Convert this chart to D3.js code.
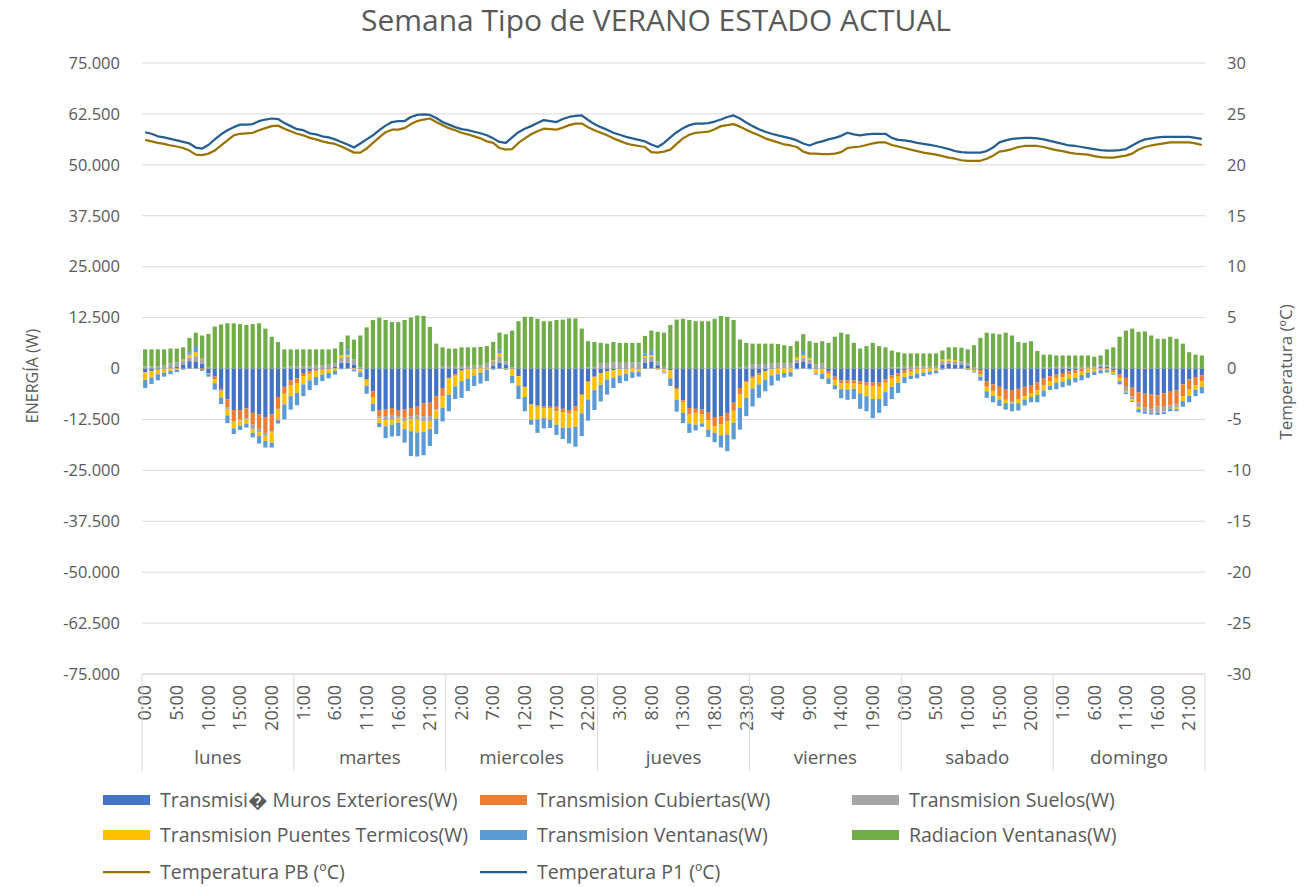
<!DOCTYPE html>
<html>
<head>
<meta charset="utf-8">
<script src="https://cdn.jsdelivr.net/npm/d3@7"></script>
<style>
  body { margin: 0; background: #ffffff; }
  svg text { font-family: "Open Sans", Roboto, "DejaVu Sans", sans-serif; fill: #595959; }
</style>
</head>
<body>
<svg id="chart" width="1310" height="887"></svg>
<script>
// ---- categories -------------------------------------------------------
const days = ["lunes", "martes", "miercoles", "jueves", "viernes", "sabado", "domingo"];
const hours = ["0:00","1:00","2:00","3:00","4:00","5:00","6:00","7:00","8:00","9:00","10:00","11:00",
               "12:00","13:00","14:00","15:00","16:00","17:00","18:00","19:00","20:00","21:00","22:00","23:00"];

// ---- energy series (W), one value per hour, lunes 0:00 .. domingo 23:00 ----
const murosExteriores = [
  -900,-600,-300,-100,300,400,1000,1800,1600,1100,-1100,-2000,-5000,-7600,-10200,-10200,-9800,-10900,-11300,-11900,-11300,-7000,-4500,-2900,
  -2400,-1100,-700,-300,-200,-100,400,1400,1400,1000,-200,-2600,-5600,-10200,-10100,-9700,-10200,-10100,-9700,-9400,-8600,-8400,-6800,-4800,
  -2300,-1400,-400,-200,-100,0,200,600,1400,1000,-100,-1900,-4500,-8800,-9100,-9300,-9400,-9400,-9900,-10200,-9300,-6300,-3100,-2000,
  -1100,-700,-400,-200,-200,0,-200,1400,1600,800,-200,-400,-4800,-7800,-9700,-9900,-10100,-10700,-11900,-11700,-10900,-8400,-4800,-3100,
  -2000,-1200,-700,-200,0,0,0,1400,1600,1200,-200,-100,-700,-2000,-2900,-2900,-2900,-3100,-3400,-3400,-3500,-2700,-1700,-1200,
  -400,-200,0,0,0,0,1000,1200,1000,1000,600,-300,-400,-3100,-3900,-4500,-5200,-5300,-5000,-4500,-4200,-3400,-2500,-1900,
  -1500,-1100,-700,-400,0,0,200,500,400,-400,-1500,-2300,-4700,-5800,-6200,-6400,-6600,-6100,-5700,-5300,-3900,-2700,-2100,-1700
];
const cubiertas = [
  -100,-100,0,0,0,0,0,0,0,-400,-200,-600,-300,-2000,-2700,-2300,-2400,-2900,-3500,-3900,-4100,-2900,-1700,-1300,
  -1200,-800,-600,-400,-200,-200,0,0,0,0,0,-200,-1400,-1600,-1600,-1900,-1500,-2000,-2000,-2100,-3100,-3300,-3300,-2000,
  -200,-400,-200,0,0,0,0,0,0,0,0,0,0,-100,-300,-400,-300,-1100,-800,-900,-1100,-200,-300,-200,
  0,0,0,0,-100,0,0,0,0,0,0,0,-400,-500,-1600,-1000,-1200,-2000,-2300,-2000,-2000,-2000,-1600,-300,
  -400,-500,0,0,0,0,0,0,0,0,0,0,-600,-800,-700,-800,-800,-800,-800,-1000,-1000,-800,-800,-800,
  -700,-600,-300,-100,0,0,0,0,0,0,0,0,-1000,-1400,-1600,-2300,-2500,-2700,-2500,-2300,-2000,-2000,-1700,-1200,
  -800,-1000,-800,-800,-800,0,0,0,0,-500,-800,-2000,-2200,-2600,-3400,-3500,-2700,-3300,-3400,-3500,-2900,-2500,-2000,-1400
];
const suelos = [
  500,500,500,700,900,1100,1000,800,1400,1200,200,0,-200,-300,-200,-300,-300,-1200,-800,-800,-300,-200,200,500,
  600,600,600,700,800,900,900,1200,1500,1200,300,0,0,-400,-1000,-1000,-600,-800,-800,-1100,-1200,-1200,-200,600,
  400,400,600,600,700,800,1000,1200,1600,800,300,0,0,0,0,0,0,0,0,0,0,0,300,400,
  1300,1200,1500,1600,1600,1500,1500,1200,1300,1000,400,0,0,0,0,0,0,0,0,0,0,0,200,600,
  1100,1100,1100,1200,1300,1300,1300,800,1100,1000,1000,1200,0,0,0,0,0,0,0,0,0,0,200,300,
  400,400,500,500,600,600,800,700,800,800,700,200,0,0,0,0,0,-400,0,0,0,0,200,200,
  400,400,400,400,400,400,400,500,400,400,0,-1200,-700,-1200,-1000,-1000,-1500,-1100,-800,-800,0,0,0,0
];
const puentesTermicos = [
  -1800,-1500,-1100,-900,-600,-300,200,800,1000,100,-100,-1000,-1600,-1600,-1600,-1200,-1100,-800,-1000,-1200,-2500,-2600,-2600,-2600,
  -2400,-2000,-1600,-1400,-1100,-800,-600,600,500,-300,-700,-1400,-1600,-1200,-1500,-1200,-1000,-2000,-2900,-3100,-2700,-2000,-2000,-2900,
  -3900,-2600,-2500,-2300,-1600,-1000,-300,200,800,-100,-1700,-2300,-2500,-3700,-3100,-2500,-2900,-3300,-3900,-3400,-3900,-4500,-4200,-3100,
  -2900,-2000,-1900,-1500,-1000,-900,-600,500,400,-200,-800,-2000,-2500,-2600,-2200,-2900,-2200,-2300,-1600,-2700,-3300,-2900,-3300,-3800,
  -2500,-2200,-2000,-1500,-1400,-1100,-900,600,600,400,-1000,-1200,-1100,-1300,-1500,-1500,-1300,-2200,-2600,-3100,-3000,-2300,-2000,-1500,
  -1000,-1000,-900,-900,-700,-500,400,400,300,0,-200,-500,-600,-1100,-1200,-800,-800,-200,-1000,-800,-800,-1100,-1200,-1200,
  -1200,-1100,-1100,-1100,-800,-1000,-800,-400,-400,-300,-800,-400,-400,-400,100,0,0,-200,0,-400,-1200,-1500,-1100,-1400
];
const ventanas = [
  -2000,-1600,-1500,-1000,-800,-600,-300,600,1500,-200,-600,-1600,-1600,-1900,-1400,-1100,-900,-1100,-1800,-1600,-1200,-800,-3700,-3300,
  -3000,-2900,-2400,-2000,-1600,-1300,-900,-200,1200,-400,-1200,-2000,-1900,-1000,-2900,-2900,-3300,-3300,-6100,-5900,-5700,-4100,-3800,-3300,
  -4100,-3100,-4100,-3000,-2600,-2700,-2800,-300,800,-200,-1800,-3300,-3500,-1200,-3300,-2500,-2000,-2500,-2700,-3900,-4900,-5600,-5200,-4900,
  -4100,-3700,-2500,-1900,-1800,-1400,-1200,600,1200,-100,-200,-1900,-2900,-2500,-2300,-1400,-800,-1800,-2300,-3000,-4100,-4100,-5300,-4500,
  -4400,-3300,-2900,-2500,-1600,-1100,-1100,-200,1000,-200,-300,-1300,-1400,-1000,-2200,-2500,-2500,-3800,-3700,-4700,-3400,-3400,-3000,-2500,
  -1500,-800,-1200,-900,-800,-700,-300,-100,-100,-100,-200,-200,-1000,-1600,-1600,-1600,-1600,-1900,-1800,-1500,-1300,-1800,-1500,-1000,
  -1600,-1400,-1600,-1100,-1300,-1300,-800,-800,-600,-300,-800,-400,-200,-800,-500,-400,-600,-500,-600,-500,-1400,-1600,-1600,-1600
];
const radiacionVentanas = [
  4200,4200,4200,4000,3700,3400,3000,3500,3300,5700,8300,10300,10800,11100,11100,10900,10700,10900,11100,9800,7800,6500,4500,4200,
  4100,4100,4100,4000,3900,3800,3600,3300,3500,4900,7800,10100,11900,12500,11900,11400,11400,11900,12500,13000,12900,10200,6100,4600,
  4500,4500,4600,4600,4500,4500,4300,4500,4200,6600,9000,11600,12700,12700,12200,11600,11600,11900,12000,12300,12300,9800,6400,6100,
  5000,4900,5000,4700,4700,4800,4800,4300,4800,7200,8400,10700,12000,12200,11900,11600,11600,11600,12200,12900,12700,11900,6900,5700,
  5000,5000,5000,4900,4700,4400,4200,3900,4100,4100,5300,5500,6300,7800,8800,8400,6300,4900,5500,6300,5500,5200,4200,3700,
  3300,3300,3200,3200,3100,3100,2200,2900,3100,3300,3400,5500,7500,8800,8600,8400,8800,8100,6500,6300,6700,4300,3200,3200,
  2800,2800,2800,2800,2800,2800,2300,2200,3900,4800,7800,9300,9800,9000,9000,8100,7300,7300,7800,7300,6100,4000,3400,3200
];

// ---- temperatures (ºC) ------------------------------------------------
const temperaturaPB = [
  22.45,22.3,22.15,22.05,21.9,21.8,21.65,21.4,21.0,20.95,21.1,21.4,21.9,22.4,22.9,23.05,23.1,23.15,23.4,23.6,23.8,23.85,23.55,23.3,
  23.05,22.9,22.65,22.5,22.3,22.15,22.05,21.8,21.5,21.2,21.2,21.6,22.15,22.7,23.2,23.45,23.45,23.6,24.0,24.3,24.45,24.55,24.2,23.9,
  23.6,23.4,23.15,23.0,22.8,22.6,22.3,22.15,21.65,21.5,21.55,22.15,22.6,23.0,23.3,23.55,23.5,23.45,23.65,23.9,24.05,24.05,23.7,23.4,
  23.15,22.9,22.6,22.35,22.1,21.95,21.85,21.75,21.25,21.2,21.3,21.5,22.05,22.6,22.95,23.15,23.2,23.25,23.5,23.8,23.9,24.0,23.75,23.45,
  23.15,22.9,22.6,22.4,22.2,22.0,21.9,21.75,21.3,21.1,21.1,21.05,21.05,21.1,21.25,21.65,21.75,21.8,21.95,22.1,22.2,22.2,21.95,21.8,
  21.65,21.5,21.35,21.2,21.1,21.0,20.85,20.7,20.6,20.45,20.4,20.4,20.4,20.6,20.9,21.3,21.4,21.55,21.75,21.85,21.85,21.85,21.75,21.6,
  21.45,21.35,21.2,21.1,21.05,21.0,20.85,20.75,20.7,20.7,20.8,20.9,21.1,21.5,21.75,21.9,22.0,22.1,22.2,22.2,22.2,22.2,22.1,21.95
];
const temperaturaP1 = [
  23.2,23.05,22.8,22.7,22.55,22.4,22.25,22.1,21.7,21.6,21.95,22.5,23.0,23.4,23.7,23.95,23.95,24.0,24.3,24.45,24.55,24.5,24.1,23.8,
  23.5,23.4,23.1,23.0,22.8,22.7,22.5,22.25,22.0,21.7,22.1,22.5,22.9,23.4,23.85,24.2,24.3,24.3,24.7,24.9,24.95,24.9,24.6,24.2,
  23.95,23.7,23.5,23.4,23.25,23.1,22.9,22.6,22.25,22.15,22.7,23.2,23.55,23.8,24.1,24.4,24.3,24.2,24.5,24.7,24.8,24.85,24.4,24.0,
  23.7,23.45,23.15,22.95,22.75,22.6,22.45,22.3,22.0,21.75,22.15,22.7,23.2,23.6,23.9,24.05,24.05,24.1,24.25,24.45,24.7,24.85,24.55,24.15,
  23.8,23.5,23.25,23.05,22.9,22.75,22.6,22.4,22.1,21.9,22.15,22.3,22.5,22.65,22.85,23.15,23.0,22.9,23.0,23.05,23.05,23.05,22.65,22.45,
  22.4,22.3,22.15,22.05,21.95,21.85,21.7,21.55,21.35,21.25,21.2,21.2,21.2,21.35,21.7,22.2,22.4,22.55,22.6,22.65,22.65,22.6,22.5,22.35,
  22.2,22.05,21.9,21.85,21.75,21.65,21.55,21.45,21.4,21.4,21.45,21.55,21.9,22.25,22.5,22.6,22.7,22.75,22.75,22.75,22.75,22.75,22.65,22.55
];

// ---- axis ticks ---------------------------------------------------------
const energyTicks = [-75000,-62500,-50000,-37500,-25000,-12500,0,12500,25000,37500,50000,62500,75000];
const tempTicks = [-30,-25,-20,-15,-10,-5,0,5,10,15,20,25,30];
const hourTickStep = 5;

// ---- series definitions -------------------------------------------------
const barSeries = [
  { key: "muros",     name: "Transmisi\uFFFD Muros Exteriores(W)",  color: "#4472C4", values: murosExteriores },
  { key: "cubiertas", name: "Transmision Cubiertas(W)",             color: "#ED7D31", values: cubiertas },
  { key: "suelos",    name: "Transmision Suelos(W)",                color: "#A5A5A5", values: suelos },
  { key: "puentes",   name: "Transmision Puentes Termicos(W)",      color: "#FFC000", values: puentesTermicos },
  { key: "ventanas",  name: "Transmision Ventanas(W)",              color: "#5B9BD5", values: ventanas },
  { key: "radiacion", name: "Radiacion Ventanas(W)",                color: "#70AD47", values: radiacionVentanas }
];
const lineSeries = [
  { name: "Temperatura PB (ºC)", color: "#997300", values: temperaturaPB },
  { name: "Temperatura P1 (ºC)", color: "#255E91", values: temperaturaP1 }
];

// ---- layout -------------------------------------------------------------
const plot = { left: 142, right: 1205, top: 63, bottom: 674 };
const svg = d3.select("#chart");

const categories = days.flatMap(d => hours.map(h => ({ day: d, hour: h })));
const idx = d3.range(categories.length);

const x = d3.scaleBand().domain(idx).range([plot.left, plot.right])
  .paddingInner(0.34).paddingOuter(0.17);
const yE = d3.scaleLinear().domain([-75000, 75000]).range([plot.bottom, plot.top]);
const yT = d3.scaleLinear().domain([-30, 30]).range([plot.bottom, plot.top]);

const esLocale = d3.formatLocale({ decimal: ",", thousands: ".", grouping: [3], currency: ["", " €"], minus: "-" });
const fmtEnergy = esLocale.format(",.0f");

// gridlines
svg.append("g").attr("class", "grid")
  .selectAll("line").data(energyTicks).join("line")
  .attr("x1", plot.left).attr("x2", plot.right)
  .attr("y1", d => yE(d)).attr("y2", d => yE(d))
  .attr("stroke", "#d9d9d9").attr("stroke-width", 1);

// stacked bars (positive up, negative down, in series order)
const rows = idx.map(i => {
  const r = { i };
  barSeries.forEach(s => { r[s.key] = s.values[i]; });
  return r;
});
const stacked = d3.stack().keys(barSeries.map(s => s.key)).offset(d3.stackOffsetDiverging)(rows);

const barsG = svg.append("g").attr("class", "bars");
stacked.forEach((layer, k) => {
  barsG.append("g").attr("fill", barSeries[k].color)
    .selectAll("rect").data(layer).join("rect")
    .attr("x", d => x(d.data.i))
    .attr("width", x.bandwidth())
    .attr("y", d => yE(Math.max(d[0], d[1])))
    .attr("height", d => Math.abs(yE(d[0]) - yE(d[1])));
});

// temperature lines on the secondary axis
const line = d3.line()
  .x((d, i) => x(i) + x.bandwidth() / 2)
  .y(d => yT(d));
svg.append("g").attr("class", "lines")
  .selectAll("path").data(lineSeries).join("path")
  .attr("d", s => line(s.values))
  .attr("fill", "none")
  .attr("stroke", s => s.color)
  .attr("stroke-width", 2.25)
  .attr("stroke-linejoin", "round");

// left axis
const axL = svg.append("g").attr("transform", `translate(${plot.left},0)`)
  .call(d3.axisLeft(yE).tickValues(energyTicks).tickFormat(fmtEnergy).tickSize(0).tickPadding(22));
axL.select(".domain").remove();
axL.selectAll("text").attr("font-size", 16.5);

// right axis
const axR = svg.append("g").attr("transform", `translate(${plot.right},0)`)
  .call(d3.axisRight(yT).tickValues(tempTicks).tickFormat(d3.format("d")).tickSize(0).tickPadding(22));
axR.select(".domain").remove();
axR.selectAll("text").attr("font-size", 16.5).text(d => String(d));

// category axis: hour labels
const axB = svg.append("g").attr("transform", `translate(0,${plot.bottom})`)
  .call(d3.axisBottom(x).tickValues(idx.filter(i => i % hourTickStep === 0))
    .tickFormat(i => categories[i].hour).tickSize(0));
axB.select(".domain").remove();
axB.selectAll("text")
  .attr("font-size", 18)
  .attr("transform", "rotate(-90)")
  .attr("text-anchor", "end")
  .attr("x", -11).attr("y", 0).attr("dy", "0.35em");

// category axis: day level
const dayBand = d3.scaleBand().domain(days).range([plot.left, plot.right]);
const frame = svg.append("g").attr("stroke", "#d9d9d9").attr("stroke-width", 1);
frame.append("line").attr("x1", plot.left).attr("x2", plot.right)
  .attr("y1", plot.bottom).attr("y2", plot.bottom);
frame.selectAll("line.sep").data(days.map(d => dayBand(d)).concat([plot.right])).join("line")
  .attr("class", "sep")
  .attr("x1", d => d).attr("x2", d => d)
  .attr("y1", plot.bottom).attr("y2", 771);
svg.append("g").selectAll("text").data(days).join("text")
  .attr("x", d => dayBand(d) + dayBand.bandwidth() / 2)
  .attr("y", 757).attr("dy", "0.35em")
  .attr("text-anchor", "middle").attr("font-size", 18.8)
  .text(d => d);

// title and axis titles
svg.append("text").attr("x", 656).attr("y", 20).attr("dy", "0.35em")
  .attr("text-anchor", "middle").attr("font-size", 30)
  .text("Semana Tipo de VERANO ESTADO ACTUAL");
svg.append("text").attr("transform", "translate(32,376) rotate(-90)")
  .attr("text-anchor", "middle").attr("dy", "0.35em").attr("font-size", 16)
  .text("ENERGÍA (W)");
svg.append("text").attr("transform", "translate(1286,372) rotate(-90)")
  .attr("text-anchor", "middle").attr("dy", "0.35em").attr("font-size", 17)
  .text("Temperatura (ºC)");

// legend
const legendCols = [103, 480, 852];
const legendRows = [800, 835, 872];
const legendItems = barSeries.map((s, k) => ({ type: "bar", s, col: k % 3, row: Math.floor(k / 3) }))
  .concat(lineSeries.map((s, k) => ({ type: "line", s, col: k, row: 2 })));
const lg = svg.append("g").attr("class", "legend")
  .selectAll("g").data(legendItems).join("g")
  .attr("transform", d => `translate(${legendCols[d.col]},${legendRows[d.row]})`);
lg.filter(d => d.type === "bar").append("rect")
  .attr("x", 0).attr("y", -5).attr("width", 47).attr("height", 10)
  .attr("fill", d => d.s.color);
lg.filter(d => d.type === "line").append("line")
  .attr("x1", 0).attr("x2", 47).attr("y1", 0).attr("y2", 0)
  .attr("stroke", d => d.s.color).attr("stroke-width", 2.25);
lg.append("text").attr("x", 57).attr("y", 0).attr("dy", "0.35em")
  .attr("font-size", 19.5).text(d => d.s.name);
</script>
</body>
</html>
